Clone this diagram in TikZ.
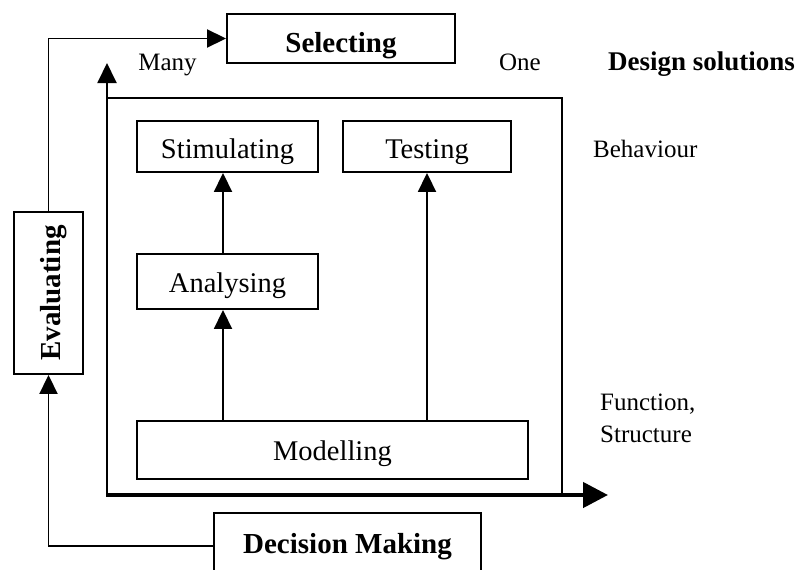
\documentclass[tikz,border=0pt]{standalone}
\usepackage{fontspec}
\setmainfont{Liberation Serif}
\usetikzlibrary{arrows.meta}
\begin{document}
\begin{tikzpicture}[x=1pt,y=-1pt,
  box/.style={draw, line width=1.9pt, inner xsep=0pt, inner ysep=0pt, font=\fontsize{28.5}{30}\selectfont},
  bbox/.style={box, font=\fontsize{29}{31}\selectfont\bfseries},
  lab/.style={inner sep=0pt, font=\fontsize{25}{28}\selectfont},
  con/.style={line width=1.9pt},
  arr/.style={con, -{Triangle[length=19pt,width=18pt]}}
]
\useasboundingbox (0,0) rectangle (795,570);
\fill[white] (0,0) rectangle (795,570);

% boxes
\node[bbox, minimum width=228pt, text height=38pt, text depth=11pt] (sel) at (341,38.5) {Selecting};
\node[box, minimum width=181pt, text height=37pt, text depth=14pt] (stim) at (227.5,146.5) {Stimulating};
\node[box, minimum width=168pt, text height=37pt, text depth=14pt] (test) at (427,146.5) {Testing};
\node[box, minimum width=181pt, text height=38pt, text depth=17pt] (ana) at (227.5,281.5) {Analysing};
\node[box, minimum width=391pt, text height=39pt, text depth=19pt] (mod) at (332.5,450) {Modelling};
\node[bbox, minimum width=267pt, text height=40pt, text depth=26pt] (dm) at (347.5,546) {Decision Making};
\node[bbox, rotate=90, minimum width=162pt, text height=46pt, text depth=23pt] (eval) at (48.5,293) {Evaluating};

% axes and frame
\coordinate (o) at (107,495);
\coordinate (ytip) at (107,63);
\coordinate (xtip) at (608,495);
\coordinate (tr) at (562,98);
\draw[con] (o |- tr) -- (tr) -- (tr |- o);
\draw[con, -{Triangle[length=20pt,width=19pt]}] (o) -- (ytip);
\draw[line width=4.5pt, -{Triangle[length=25pt,width=25pt]}] ([xshift=-1pt]o) -- (xtip);

% connectors
\draw[arr] (eval.east) |- (sel.west);
\draw[arr] (dm.west) -| (eval.west);
\coordinate (ax) at ([xshift=-4.5pt]ana.south);
\coordinate (an) at ([xshift=-4.5pt]ana.north);
\draw[arr] (ax |- mod.north) -- (ax);
\draw[arr] (an) -- (an |- stim.south);
\draw[arr] (mod.north -| test.south) -- (test.south);

% labels
\node[lab, anchor=base] (many) at (167.5,70) {Many};
\node[lab, anchor=base] (one) at (520,70) {One};
\node[lab, anchor=base west, font=\fontsize{27}{30}\selectfont\bfseries] (ds) at (608,70) {Design solutions};
\node[lab, anchor=base west] (beh) at (593,157) {Behaviour};
\node[lab, anchor=base west] (fun) at (600,410) {Function,};
\node[lab, anchor=base west] (str) at (600,442) {Structure};
\end{tikzpicture}
\end{document}
